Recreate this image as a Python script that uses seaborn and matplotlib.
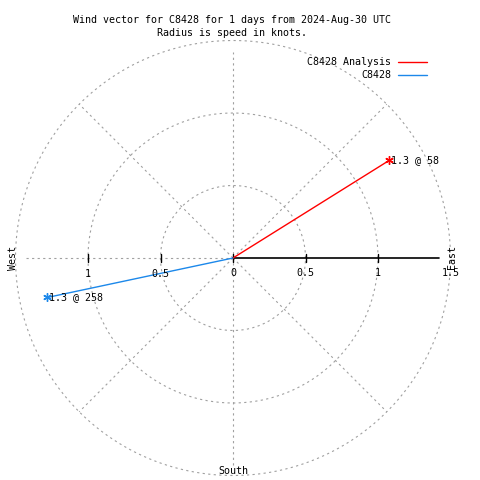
import numpy as np
import pandas as pd
import matplotlib
matplotlib.use("Agg")
import matplotlib.pyplot as plt
import seaborn as sns

# -------------------------------------------------------
# Data
# -------------------------------------------------------
series = ["C8428 Analysis", "C8428"]
speeds = [1.27, 1.31]          # knots
directions = [58, 258]         # degrees, clockwise from north
speed_labels = [1.3, 1.3]
colours = ["#ff0000", "#1c88ea"]
rings = [0.5, 1.0, 1.5]
left_ticks = [1, 0.5]
right_ticks = [0, 0.5, 1, 1.5]

sns.set_theme(style="white")
plt.rcParams["font.family"] = ["DejaVu Sans Mono", "DejaVu Sans"]
plt.rcParams["text.color"] = "black"
FS = 7.2
GRID = dict(color="#a0a0a0", lw=0.8, ls=(0, (2, 3)))

rows = []
for name, spd, d in zip(series, speeds, directions):
    rad = np.deg2rad(d)
    rows.append({"series": name, "step": 0, "x": 0.0, "y": 0.0})
    rows.append({"series": name, "step": 1, "x": spd * np.sin(rad), "y": spd * np.cos(rad)})
df = pd.DataFrame(rows)

# -------------------------------------------------------
# Figure: axes fill the canvas, 145 px per knot, centre (233, 258)
# -------------------------------------------------------
fig = plt.figure(figsize=(4.8, 4.8), dpi=100)
ax = fig.add_axes([0, 0, 1, 1])
scale = 145.0
ax.set_xlim(-233 / scale, (480 - 233) / scale)
ax.set_ylim(-(480 - 258) / scale, 258 / scale)
ax.axis("off")

# grid rings and spokes
t = np.linspace(0, 2 * np.pi, 400)
for r in rings:
    ax.plot(r * np.cos(t), r * np.sin(t), **GRID)
for a in [45, 135, 225, 315]:
    ra = np.deg2rad(a)
    ax.plot([0, 1.5 * np.cos(ra)], [0, 1.5 * np.sin(ra)], **GRID)
ax.plot([0, 0], [-1.43, 1.42], **GRID)
ax.plot([-1.43, 0], [0, 0], **GRID)

# solid radial axis with ticks
ax.plot([0, 1.42], [0, 0], color="black", lw=1.2)
for v in right_ticks[:-1]:
    ax.plot([v, v], [-0.03, 0.03], color="black", lw=1.0)
for v in left_ticks:
    ax.plot([-v, -v], [-0.03, 0.03], color="black", lw=1.0)
for v in right_ticks:
    ax.text(v, -0.1, f"{v:g}", ha="center", va="center", fontsize=FS)
for v in left_ticks:
    ax.text(-v, -0.11, f"{v:g}", ha="center", va="center", fontsize=FS)

# wind vectors
sns.lineplot(data=df, x="x", y="y", hue="series", palette=colours,
             hue_order=series, sort=False, estimator=None, units="series",
             lw=1.0, legend=False, ax=ax)
for name, spd, d, lab, c in zip(series, speeds, directions, speed_labels, colours):
    end = df[(df.series == name) & (df.step == 1)].iloc[0]
    ax.plot(end.x, end.y, marker=(6, 2, 0), ms=6, color=c, mew=1.0)
    ax.text(end.x + 0.01, end.y, f"{lab:g} @ {d}", ha="left", va="center", fontsize=FS)

# compass labels
ax.text(-1.52, 0, "West", rotation=90, ha="center", va="center", fontsize=FS)
ax.text(1.51, 0.01, "East", rotation=90, ha="center", va="center", fontsize=FS)
ax.text(0, -1.47, "South", ha="center", va="center", fontsize=FS)

# title
fig.text(232 / 480, 1 - 20 / 480, "Wind vector for C8428 for 1 days from 2024-Aug-30 UTC",
         ha="center", va="center", fontsize=FS)
fig.text(232 / 480, 1 - 33 / 480, "Radius is speed in knots.",
         ha="center", va="center", fontsize=FS)

# legend (text right aligned, line to its right)
for i, (name, c) in enumerate(zip(series, colours)):
    yy = 1 - (62 + 13 * i) / 480
    fig.text(391 / 480, yy, name, ha="right", va="center", fontsize=FS)
    fig.add_artist(plt.Line2D([398 / 480, 427 / 480], [yy, yy], color=c, lw=1.0))

fig.savefig("out.png", dpi=100, facecolor="white")
